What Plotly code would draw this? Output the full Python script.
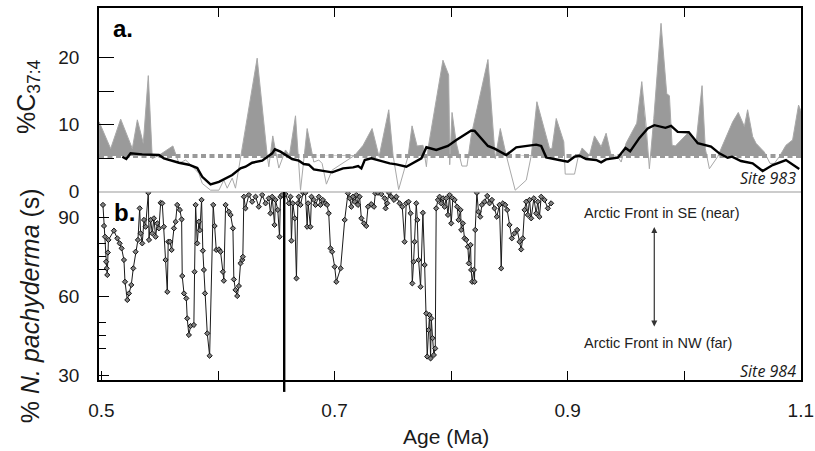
import plotly.graph_objects as go

# ---------------- data ----------------
# Panel a: %C37:4 at Site 983 (Age in Ma)
c37_age = [0.498, 0.5079, 0.5165, 0.5265, 0.5308, 0.5359, 0.5402, 0.5436, 0.5493, 0.5613,
           0.5665, 0.5722, 0.5765, 0.5836, 0.5865, 0.5936, 0.6008, 0.6050, 0.6079, 0.6122,
           0.6150, 0.6193, 0.6336, 0.6422, 0.6436, 0.6470, 0.6522, 0.6579, 0.6613, 0.6665,
           0.6708, 0.6765, 0.6822, 0.6865, 0.6893, 0.6930, 0.6979,
           0.7173, 0.7245, 0.7322, 0.7382, 0.7465, 0.7502, 0.7550, 0.7630, 0.7665, 0.7708,
           0.7759, 0.7788, 0.7802, 0.7930, 0.7979, 0.7988, 0.8008, 0.8045, 0.8093, 0.8136,
           0.8173, 0.8316, 0.8379, 0.8422, 0.8473, 0.8550, 0.8645, 0.8688, 0.8736, 0.8845,
           0.8865, 0.8902,
           0.8967, 0.8979, 0.9059, 0.9087, 0.9124, 0.9187, 0.9230, 0.9287, 0.9330, 0.9373,
           0.9430, 0.9459, 0.9501, 0.9593, 0.9636, 0.9673, 0.9701, 0.9739, 0.9801, 0.9850,
           0.9873, 0.9896, 0.9924, 1.0030, 1.0101, 1.0153, 1.0181, 1.0216, 1.0287, 1.0416,
           1.0464, 1.0516, 1.0544, 1.0587, 1.0616, 1.0687, 1.0736, 1.0773, 1.0816, 1.0873,
           1.0930, 1.0981, 1.1004]
c37_val = [10.4, 6.4, 10.8, 6.4, 10.7, 7.2, 17.3, 4.9, 5.4, 6.8,
           4.2, 4.7, 4.0, 2.7, 1.2, 0.2, 0.2, 1.7, 0.5, 2.0,
           0.5, 4.9, 19.9, 5.4, 3.7, 8.3, 3.5, 6.2, 5.4, 11.3,
           0.2, 9.4, 4.4, 4.7, 4.2, 1.1, 3.2,
           5.4, 6.9, 9.4, 5.2, 12.2, 5.4, 0.3, 5.2, 9.8, 6.8,
           6.9, 3.7, 6.4, 19.6, 17.4, 4.0, 11.8, 7.2, 3.8, 3.8,
           8.4, 19.7, 4.9, 9.4, 5.4, 0.2, 1.7, 5.4, 13.4, 6.4,
           6.4, 10.9,
           7.4, 2.6, 2.6, 4.9, 6.5, 5.4, 8.3, 6.7, 8.7, 5.4,
           5.2, 4.4, 7.2, 10.2, 16.4, 9.9, 3.4, 10.9, 25.1, 14.6,
           14.3, 6.9, 6.8, 8.7, 7.2, 15.8, 6.4, 3.4, 5.2, 10.4,
           11.8, 9.7, 12.2, 8.2, 7.2, 5.9, 4.2, 4.2, 5.2, 6.9,
           7.7, 12.9, 11.9]

# Smoothed %C37:4 (black curve)
smooth_age = [0.5179, 0.5213, 0.5250, 0.5350, 0.5493, 0.5536, 0.5665, 0.5750, 0.5822, 0.5865,
              0.5936, 0.6008, 0.6122, 0.6193, 0.6236, 0.6293, 0.6379, 0.6465, 0.6488, 0.6536,
              0.6636, 0.6693, 0.6736, 0.6779, 0.6822, 0.6979, 0.7073, 0.7159, 0.7202, 0.7230,
              0.7259, 0.7316, 0.7388, 0.7473, 0.7530, 0.7616, 0.7745, 0.7788, 0.7873, 0.7973,
              0.8045, 0.8173, 0.8202, 0.8316, 0.8373, 0.8473, 0.8559, 0.8688, 0.8730, 0.8773,
              0.8816, 0.8959, 0.9001, 0.9059, 0.9101, 0.9159, 0.9244, 0.9287, 0.9330, 0.9430,
              0.9496, 0.9536, 0.9616, 0.9687, 0.9744, 0.9839, 0.9887, 0.9944, 1.0039, 1.0116,
              1.0230, 1.0301, 1.0373, 1.0410, 1.0487, 1.0587, 1.0673, 1.0759, 1.0873, 1.0987]
smooth_val = [5.2, 4.85, 5.7, 5.55, 5.45, 4.95, 4.3, 4.0, 3.5, 2.2,
              1.05, 1.45, 2.46, 3.46, 3.7, 4.3, 4.6, 5.7, 6.3, 5.95,
              4.85, 4.6, 4.1, 4.0, 3.3, 2.86, 3.45, 3.6, 3.8, 3.45,
              4.7, 4.95, 4.6, 4.2, 4.05, 3.7, 4.95, 6.6, 6.2, 6.8,
              7.7, 9.1, 9.05, 6.8, 6.4, 5.45, 6.6, 6.9, 7.0, 6.8,
              5.1, 4.6, 4.45, 5.2, 5.35, 4.85, 4.7, 4.35, 4.8, 5.05,
              6.5, 6.0, 8.0, 9.4, 9.9, 9.5, 9.8, 8.9, 8.85, 7.2,
              6.7, 5.7, 5.05, 5.2, 4.55, 4.2, 3.06, 3.95, 4.7, 3.35]

c37_threshold = 5.3

# Panel b: % N. pachyderma (s) at Site 984
npach_age_1 = [0.5013, 0.5022, 0.5031, 0.5040, 0.5045, 0.5050, 0.5055, 0.5060, 0.5107, 0.5136,
               0.5156, 0.5173, 0.5193, 0.5202, 0.5222, 0.5236, 0.5256, 0.5273, 0.5293, 0.5313,
               0.5328, 0.5336, 0.5350, 0.5365, 0.5379, 0.5402, 0.5408, 0.5422, 0.5436, 0.5450,
               0.5465, 0.5479, 0.5493, 0.5508, 0.5522, 0.5536, 0.5550, 0.5565, 0.5573, 0.5588,
               0.5602, 0.5622, 0.5636, 0.5650, 0.5673, 0.5688, 0.5693, 0.5708, 0.5728, 0.5736,
               0.5750, 0.5765, 0.5793, 0.5799, 0.5808, 0.5822, 0.5836, 0.5845, 0.5859, 0.5870,
               0.5879, 0.5888, 0.5908, 0.5928, 0.5959, 0.5971, 0.5985, 0.6008, 0.6022, 0.6042,
               0.6050, 0.6065, 0.6093, 0.6108, 0.6128, 0.6136, 0.6150, 0.6165, 0.6179, 0.6193,
               0.6208, 0.6213, 0.6222, 0.6236, 0.6265, 0.6293, 0.6322, 0.6350, 0.6379, 0.6408,
               0.6436, 0.6450, 0.6465, 0.6485, 0.6493, 0.6513, 0.6528, 0.6536, 0.6550, 0.6579,
               0.6608, 0.6622, 0.6630, 0.6642, 0.6659, 0.6673, 0.6685, 0.6693, 0.6708, 0.6730,
               0.6750, 0.6765, 0.6773, 0.6793, 0.6802, 0.6822, 0.6836, 0.6865, 0.6879, 0.6899,
               0.6922, 0.6936, 0.6950, 0.6965, 0.6979]
npach_val_1 = [94.6, 86.6, 82.5, 73.0, 70.5, 68.0, 76.5, 81.3, 84.8, 81.9,
               80.0, 78.1, 73.7, 65.4, 58.5, 61.0, 64.2, 70.5, 76.8, 81.3,
               93.3, 83.8, 80.0, 88.9, 86.3, 99.2, 81.3, 88.9, 83.8, 89.5,
               82.5, 87.6, 85.7, 95.4, 95.2, 86.3, 73.7, 61.6, 80.6, 80.6,
               77.5, 85.7, 88.2, 94.6, 92.7, 89.1, 67.6, 61.0, 59.1, 51.5,
               45.2, 48.6, 49.0, 69.2, 94.6, 80.0, 88.2, 85.0, 96.5, 77.2,
               69.9, 61.0, 45.8, 37.3, 94.6, 86.6, 77.5, 77.7, 76.8, 69.2,
               65.8, 94.6, 92.0, 90.8, 85.7, 66.3, 62.3, 60.0, 63.8, 72.4,
               73.7, 74.9, 97.7, 93.3, 98.4, 95.8, 97.7, 93.9, 98.4, 95.2,
               97.1, 91.4, 97.7, 87.0, 96.5, 92.7, 82.5, 97.7, 98.4, 98.7,
               95.2, 97.7, 81.0, 95.2, 89.5, 66.7, 95.2, 97.7, 94.6, 99.2,
               99.2, 86.3, 95.2, 86.3, 97.7, 96.5, 94.6, 97.7, 94.6, 96.5,
               95.2, 94.6, 91.4, 78.1, 76.8]
npach_age_2 = [0.7001, 0.7015, 0.7052, 0.7087, 0.7115, 0.7130, 0.7144, 0.7158, 0.7173, 0.7187,
               0.7201, 0.7215, 0.7230, 0.7252, 0.7272, 0.7287, 0.7315, 0.7338, 0.7350, 0.7373,
               0.7401, 0.7430, 0.7438, 0.7452, 0.7467, 0.7487, 0.7510, 0.7530, 0.7558, 0.7581,
               0.7601, 0.7615, 0.7635, 0.7652, 0.7667, 0.7678, 0.7687, 0.7701, 0.7710, 0.7721,
               0.7738, 0.7758, 0.7773, 0.7787, 0.7795, 0.7807, 0.7815, 0.7824, 0.7830, 0.7841,
               0.7852, 0.7864, 0.7872, 0.7887, 0.7901, 0.7915, 0.7930, 0.7944, 0.7958, 0.7973,
               0.7987, 0.8001, 0.8015, 0.8030, 0.8052, 0.8064, 0.8081, 0.8087, 0.8101, 0.8115,
               0.8130, 0.8144, 0.8152, 0.8167, 0.8172, 0.8181, 0.8195, 0.8201, 0.8207, 0.8221,
               0.8235, 0.8250, 0.8264, 0.8287, 0.8310, 0.8330, 0.8350, 0.8372, 0.8392, 0.8415,
               0.8430, 0.8444, 0.8464, 0.8481, 0.8501, 0.8521, 0.8544, 0.8567, 0.8587, 0.8601,
               0.8615, 0.8630, 0.8644, 0.8658, 0.8673, 0.8687, 0.8710, 0.8730, 0.8744, 0.8758,
               0.8773, 0.8801, 0.8830, 0.8858]
npach_val_2 = [71.1, 65.4, 70.5, 88.9, 99.0, 97.1, 93.9, 97.7, 95.8, 98.4,
               94.6, 97.7, 89.5, 87.6, 86.6, 93.9, 94.9, 93.9, 99.0, 99.2,
               98.7, 97.1, 93.3, 95.2, 99.2, 97.7, 96.5, 97.7, 95.2, 93.9,
               80.6, 95.2, 95.8, 91.4, 64.8, 73.0, 80.6, 95.2, 88.9, 73.7,
               63.5, 91.6, 71.8, 53.4, 37.0, 47.1, 52.8, 36.3, 51.5, 44.0,
               37.6, 40.1, 93.3, 96.5, 97.7, 95.2, 97.1, 93.9, 97.1, 90.8,
               98.4, 87.6, 97.1, 96.5, 93.9, 88.9, 92.7, 85.1, 87.6, 81.9,
               81.3, 78.7, 72.4, 79.4, 69.9, 65.4, 69.9, 65.4, 85.1, 99.2,
               92.0, 90.1, 94.6, 95.8, 98.0, 95.2, 96.5, 93.3, 90.1, 94.6,
               70.5, 95.2, 94.6, 92.7, 87.0, 81.9, 83.8, 85.1, 80.6, 77.7,
               81.9, 92.7, 95.8, 90.8, 96.5, 89.5, 97.1, 91.4, 95.8, 90.1,
               97.7, 96.5, 93.3, 95.2]
npach_age = npach_age_1 + npach_age_2
npach_val = npach_val_1 + npach_val_2

marker_line_age = 0.6568   # thick vertical line in panel b

x_ticks = [0.5, 0.6, 0.7, 0.8, 0.9, 1.0, 1.1]
x_ticktext = ["0.5", "", "0.7", "", "0.9", "", "1.1"]
a_ticks = [0, 5, 10, 15, 20]
a_ticktext = ["0", "", "10", "", "20"]
b_ticks = [30, 60, 90]
b_minor = [40, 45, 50, 70, 75, 80]

# ---------------- build fill above threshold ----------------
def above_threshold(xs, ys, t):
    ox, oy = [], []
    for i in range(len(xs)):
        if i > 0:
            y0, y1 = ys[i - 1], ys[i]
            if (y0 - t) * (y1 - t) < 0:
                f = (t - y0) / (y1 - y0)
                ox.append(xs[i - 1] + f * (xs[i] - xs[i - 1]))
                oy.append(t)
        ox.append(xs[i])
        oy.append(max(ys[i], t))
    return ox, oy

fx, fy = above_threshold(c37_age, c37_val, c37_threshold)

FONT = "Liberation Sans, Arial, Helvetica, sans-serif"
XR = [0.4979, 1.1002]
SPLIT = 0.5054

fig = go.Figure()

# Panel a
fig.add_trace(go.Scatter(x=[c37_age[0], c37_age[-1]], y=[c37_threshold, c37_threshold],
                         mode="lines", line=dict(width=0, color="rgba(0,0,0,0)"),
                         xaxis="x2", yaxis="y2", hoverinfo="skip", showlegend=False))
fig.add_trace(go.Scatter(x=fx, y=fy, mode="lines", fill="tonexty", fillcolor="#9a9a9a",
                         line=dict(width=0, color="#9a9a9a"),
                         xaxis="x2", yaxis="y2", showlegend=False))
fig.add_trace(go.Scatter(x=c37_age, y=c37_val, mode="lines",
                         line=dict(width=1, color="#a8a8a8"),
                         xaxis="x2", yaxis="y2", showlegend=False))
fig.add_trace(go.Scatter(x=XR, y=[c37_threshold, c37_threshold], mode="lines",
                         line=dict(width=4, color="#9a9a9a", dash="5px,3.5px"),
                         xaxis="x2", yaxis="y2", showlegend=False))
fig.add_trace(go.Scatter(x=smooth_age, y=smooth_val, mode="lines",
                         line=dict(width=2.4, color="#000000"),
                         xaxis="x2", yaxis="y2", showlegend=False))

# Panel b
fig.add_trace(go.Scatter(x=npach_age, y=npach_val, mode="lines+markers",
                         line=dict(width=1, color="#1a1a1a"),
                         marker=dict(symbol="diamond", size=4, color="#808080",
                                     line=dict(width=1, color="#111111")),
                         xaxis="x", yaxis="y", showlegend=False))

axis_common = dict(showgrid=False, zeroline=False, showline=True, linecolor="#000000",
                   linewidth=1.5, tickcolor="#000000", tickwidth=1.2, automargin=False,
                   tickfont=dict(family=FONT, size=19, color="#1a1a1a"))

fig.update_layout(
    width=815, height=451,
    margin=dict(l=99, r=14, t=8, b=71, autoexpand=False),
    paper_bgcolor="white", plot_bgcolor="white",
    xaxis=dict(range=XR, anchor="y", domain=[0, 1], tickmode="array",
               tickvals=x_ticks, ticktext=x_ticktext, ticks="inside", ticklen=9,
               ticklabelstandoff=12, ticklabeloverflow="allow", **axis_common),
    xaxis2=dict(range=XR, anchor="y2", side="top", matches="x", domain=[0, 1],
                tickmode="array", tickvals=x_ticks[1:-1], ticks="inside", ticklen=9,
                showticklabels=False, **axis_common),
    yaxis2=dict(range=[-0.07, 27.39], domain=[SPLIT, 1], anchor="x2", tickmode="array",
                tickvals=a_ticks, ticktext=a_ticktext, ticks="inside", ticklen=15,
                mirror=True, ticklabelstandoff=14, **axis_common),
    yaxis=dict(range=[28.1, 99.5], domain=[0, SPLIT], anchor="x", tickmode="array",
               tickvals=b_ticks, ticktext=[str(v) for v in b_ticks], ticks="inside",
               ticklen=10, mirror=True, ticklabelstandoff=14,
               minor=dict(tickmode="array", tickvals=b_minor, ticks="inside",
                          ticklen=7, tickcolor="#000000", tickwidth=1.2),
               **axis_common),
    shapes=[
        dict(type="line", xref="paper", yref="paper", x0=0, x1=1, y0=SPLIT, y1=SPLIT,
             line=dict(color="#999999", width=1.2)),
        dict(type="line", xref="x", yref="paper", x0=marker_line_age, x1=marker_line_age,
             y0=-0.032, y1=SPLIT, line=dict(color="#000000", width=2.4)),
    ],
)

ann = [
    dict(text="%C<sub>37:4</sub>", x=-0.101, y=0.761, textangle=-90,
         font=dict(family=FONT, size=25, color="#1a1a1a")),
    dict(text="% <i>N. pachyderma</i> (s)", x=-0.098, y=0.199, textangle=-90,
         font=dict(family=FONT, size=25, color="#1a1a1a")),
    dict(text="Age (Ma)", x=0.494, y=-0.153,
         font=dict(family=FONT, size=21, color="#1a1a1a")),
    dict(text="<b>a.</b>", x=0.034, y=0.944,
         font=dict(family=FONT, size=24, color="#000000")),
    dict(text="<b>b.</b>", x=0.036, y=0.449,
         font=dict(family=FONT, size=24, color="#000000")),
    dict(text="<i>Site 983</i>", x=0.996, y=0.543, xanchor="right",
         font=dict(family="Open Sans, sans-serif", size=16, color="#1a1a1a")),
    dict(text="<i>Site 984</i>", x=0.996, y=0.024, xanchor="right",
         font=dict(family="Open Sans, sans-serif", size=16, color="#1a1a1a")),
    dict(text="Arctic Front in SE (near)", x=0.802, y=0.449,
         font=dict(family=FONT, size=14.5, color="#222222")),
    dict(text="Arctic Front in NW (far)", x=0.796, y=0.099,
         font=dict(family=FONT, size=14.5, color="#222222")),
]
for a in ann:
    a.setdefault("xanchor", "center")
    a.setdefault("yanchor", "middle")
    fig.add_annotation(xref="paper", yref="paper", showarrow=False, **a)

fig.add_annotation(xref="paper", yref="paper", x=0.791, y=0.411, ax=0, ay=101,
                   text="", showarrow=True, arrowside="end+start", arrowhead=2,
                   startarrowhead=2, arrowsize=1, startarrowsize=1, arrowwidth=1.2,
                   arrowcolor="#333333")

fig.write_html("out.html", config={"displayModeBar": False},
               post_script="document.body.style.margin='0';")
